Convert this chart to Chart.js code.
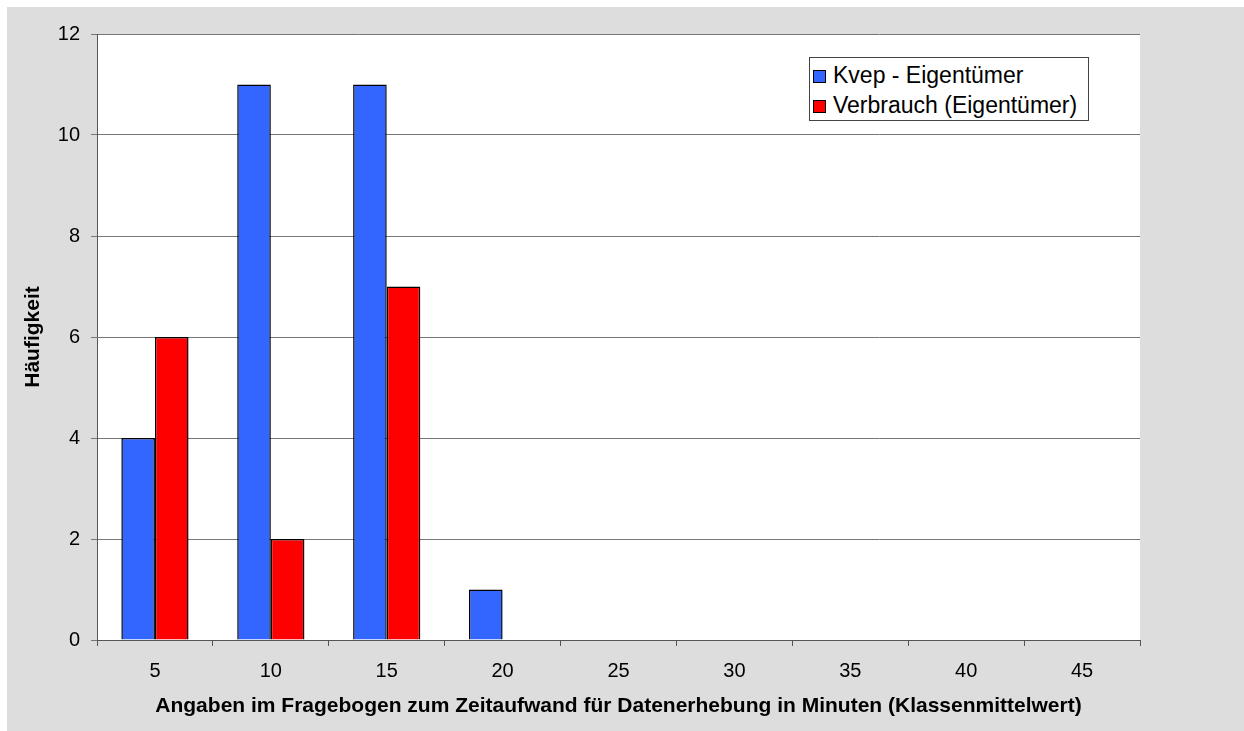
<!DOCTYPE html>
<html>
<head>
<meta charset="utf-8">
<script src="https://cdn.jsdelivr.net/npm/chart.js@4/dist/chart.umd.min.js"></script>
<style>
  body { margin: 0; background: #fff; }
  #box { position: absolute; left: 7px; top: 7px; width: 1237px; height: 724px; background: #dddddd; }
  #legend {
    position: absolute; left: 802px; top: 50px; width: 280px; height: 64px;
    background: #fff; border: 1px solid #444; box-sizing: border-box;
    font-family: "Liberation Sans", Arial, sans-serif; font-size: 23px; color: #000;
    padding-top: 2px;
  }
  #legend div { height: 30px; line-height: 30px; white-space: nowrap; }
  #legend span { display: inline-block; width: 11px; height: 11px; border: 1px solid #000;
    margin: 0 7px 0 3px; vertical-align: 0px; }
</style>
</head>
<body>
<div id="box">
  <canvas id="c" width="1237" height="724"></canvas>
  <div id="legend"></div>
</div>
<script>
// Daten aus der Abbildung
const kategorien = ['5', '10', '15', '20', '25', '30', '35', '40', '45'];
const kvepEigentuemer = [4, 11, 11, 1, 0, 0, 0, 0, 0];
const verbrauchEigentuemer = [6, 2, 7, 0, 0, 0, 0, 0, 0];
const serienNamen = ['Kvep - Eigentümer', 'Verbrauch (Eigentümer)'];
const farben = ['#3366ff', '#ff0000'];

const schrift = "'Liberation Sans', Arial, sans-serif";

// weisser Zeichenbereich
const plotHintergrund = {
  id: 'plotHintergrund',
  beforeDraw(chart) {
    const a = chart.chartArea;
    chart.ctx.save();
    chart.ctx.fillStyle = '#fff';
    chart.ctx.fillRect(a.left, a.top, a.right - a.left, a.bottom - a.top);
    chart.ctx.restore();
  }
};

const chart = new Chart(document.getElementById('c'), {
  type: 'bar',
  data: {
    labels: kategorien,
    datasets: [
      { label: serienNamen[0], data: kvepEigentuemer, backgroundColor: farben[0] },
      { label: serienNamen[1], data: verbrauchEigentuemer, backgroundColor: farben[1] }
    ]
  },
  options: {
    responsive: false,
    animation: false,
    layout: { padding: { top: 27, right: 104, left: 0, bottom: 0 } },
    datasets: {
      bar: {
        borderColor: '#000',
        borderWidth: 1.5,
        categoryPercentage: 0.58,
        barPercentage: 1
      }
    },
    plugins: {
      legend: { display: false },
      tooltip: { enabled: false }
    },
    scales: {
      x: {
        grid: { offset: true, drawOnChartArea: false, tickLength: 6, color: '#555' },
        border: { color: '#555' },
        ticks: { color: '#000', font: { family: schrift, size: 20 }, padding: 13, maxRotation: 0 },
        title: {
          display: true,
          text: 'Angaben im Fragebogen zum Zeitaufwand für Datenerhebung in Minuten (Klassenmittelwert)',
          color: '#000',
          font: { family: schrift, size: 21, weight: 'bold' },
          padding: { top: 0, bottom: 12 }
        },
        afterFit: s => { s.height = 91; }
      },
      y: {
        min: 0, max: 12,
        grid: { color: '#777', tickLength: 6 },
        border: { color: '#555' },
        ticks: { stepSize: 2, color: '#000', font: { family: schrift, size: 20 }, padding: 11 },
        title: {
          display: true,
          text: 'Häufigkeit',
          color: '#000',
          font: { family: schrift, size: 21, weight: 'bold' },
          padding: { top: 14, bottom: 0 }
        },
        afterFit: s => { s.width = 90; }
      }
    }
  },
  plugins: [plotHintergrund]
});

// Legende als HTML im Diagrammbereich
const leg = document.getElementById('legend');
chart.data.datasets.forEach(ds => {
  const row = document.createElement('div');
  row.innerHTML = '<span style="background:' + ds.backgroundColor + '"></span>' + ds.label;
  leg.appendChild(row);
});
</script>
</body>
</html>
